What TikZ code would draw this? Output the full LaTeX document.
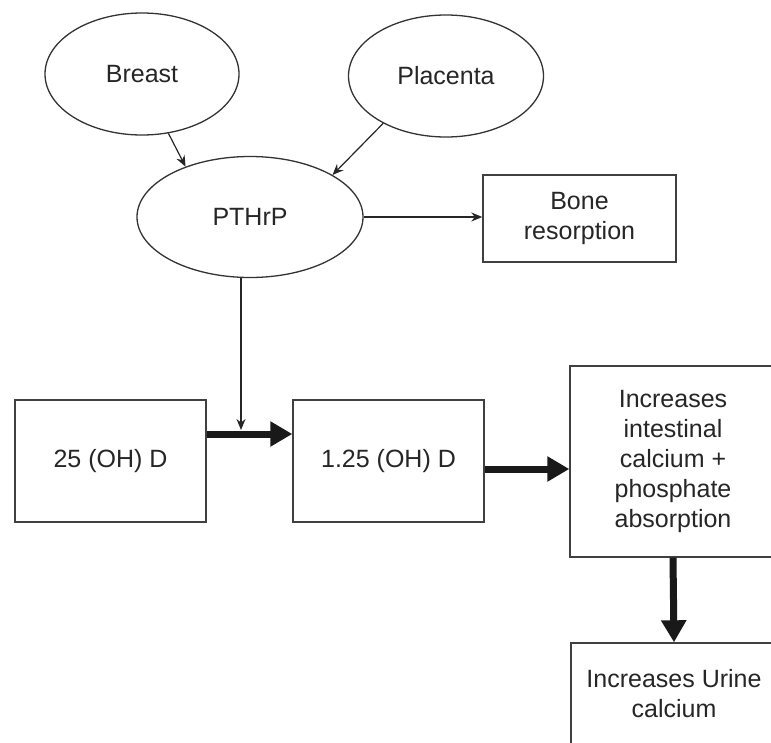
\documentclass[tikz,border=0pt]{standalone}
\usepackage{fontspec}
\setmainfont{Liberation Sans}
\usetikzlibrary{arrows.meta,shapes.geometric}
\begin{document}
\begin{tikzpicture}[x=1pt,y=-1pt,
  every node/.style={font=\fontsize{25}{30}\selectfont, text=black!85, align=center, inner sep=0pt},
  oval/.style={ellipse, draw=black!80, line width=1.3pt},
  boxnode/.style={rectangle, draw=black!75, line width=1.4pt},
  thin/.style={draw=black!85, line width=1.2pt, -{Stealth[length=11pt,width=9pt]}},
  thick/.style={draw=black!90, line width=7pt, -{Triangle[length=22pt,width=24pt]}}]
\clip (0,0) rectangle (771,742);
\fill[white] (0,0) rectangle (771,742);
\node[oval, minimum width=194pt, minimum height=122pt] (breast) at (142,74) {Breast};
\node[oval, minimum width=195pt, minimum height=122pt] (placenta) at (446,76) {Placenta};
\node[oval, minimum width=226pt, minimum height=121pt] (pthrp) at (250,217) {PTHrP};
\node[boxnode, minimum width=193pt, minimum height=87pt] (bone) at (579.5,218.5) {Bone\\resorption};
\node[boxnode, minimum width=191pt, minimum height=122pt] (c25) at (110.5,461) {25 (OH) D};
\node[boxnode, minimum width=191pt, minimum height=122pt] (c125) at (388.5,461) {1.25 (OH) D};
\node[boxnode, minimum width=206pt, minimum height=191pt] (inc) at (673,461.5) {Increases\\intestinal\\calcium +\\phosphate\\absorption};
\node[boxnode, minimum width=206pt, minimum height=101pt] (urine) at (674,693.5) {Increases Urine\\calcium};
\coordinate (k) at (241,434);
\coordinate (kt) at (241,430);
\coordinate (j) at (0,469);
% connectors
\draw[thin] (breast.-66) -- (pthrp.142);
\draw[thin] (placenta.-143) -- (pthrp.27);
\draw[thin] (pthrp.east) -- (pthrp.east -| bone.west);
\draw[thick] (c25.east |- k) -- (c125.west |- k);
\draw[thin] (kt |- pthrp.south) -- (kt);
\draw[thick] (c125.east |- j) -- (inc.west |- j);
\draw[thick] (inc.south) -- (urine.north);
\end{tikzpicture}
\end{document}
